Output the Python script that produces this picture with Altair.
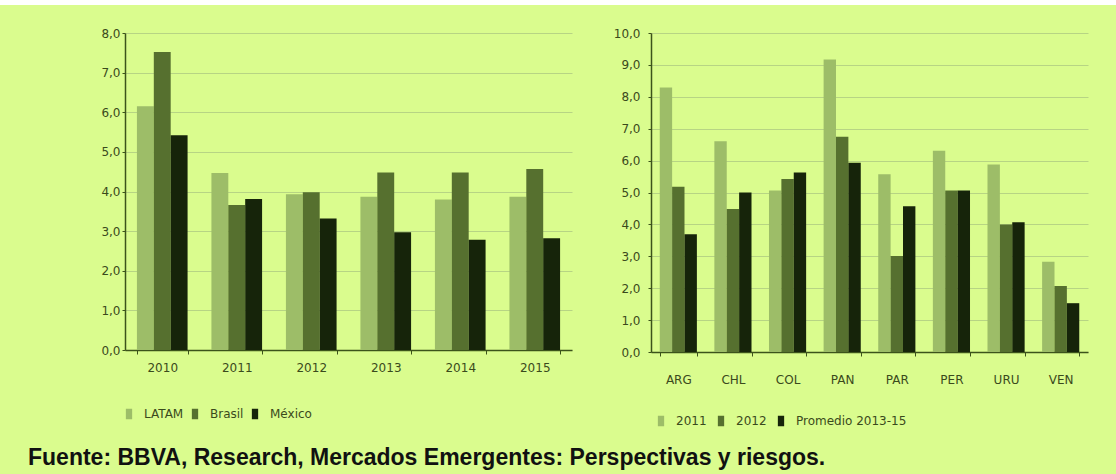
import altair as alt
import pandas as pd

# ---- data ----
years = ["2010", "2011", "2012", "2013", "2014", "2015"]
latam = [6.15, 4.47, 3.93, 3.87, 3.80, 3.87]
brasil = [7.52, 3.66, 3.98, 4.48, 4.48, 4.57]
mexico = [5.42, 3.81, 3.32, 2.97, 2.78, 2.82]
left_series = ["LATAM", "Brasil", "México"]

countries = ["ARG", "CHL", "COL", "PAN", "PAR", "PER", "URU", "VEN"]
v2011 = [8.29, 6.61, 5.06, 9.17, 5.57, 6.31, 5.88, 2.83]
v2012 = [5.18, 4.48, 5.42, 6.75, 3.01, 5.06, 4.00, 2.07]
prom = [3.69, 5.00, 5.63, 5.93, 4.57, 5.06, 4.07, 1.53]
right_series = ["2011", "2012", "Promedio 2013-15"]

footer = "Fuente: BBVA, Research, Mercados Emergentes: Perspectivas y riesgos."

# ---- styling ----
BG = "#dafc8e"
C1, C2, C3 = "#9dbd68", "#56702f", "#16240a"
AX = "#3c531b"
TXT = "#3a4a1c"
GRID = "#b7d484"
FONT = "DejaVu Sans"

left_df = pd.DataFrame({
    "cat": years * 3,
    "serie": [s for s in left_series for _ in years],
    "val": latam + brasil + mexico,
})
right_df = pd.DataFrame({
    "cat": countries * 3,
    "serie": [s for s in right_series for _ in countries],
    "val": v2011 + v2012 + prom,
})

comma = "replace(format(datum.value, '.1f'), '.', ',')"
bar_sym = "M-0.6,-1H0.6V1H-0.6Z"


def bars(df, cats, series, ymax, xlab_pad, ylab_pad, lx, ly, colpad, loff):
    return alt.Chart(df).mark_bar().encode(
        x=alt.X("cat:N", sort=cats, title=None,
                scale=alt.Scale(paddingInner=0.32, paddingOuter=0.16),
                axis=alt.Axis(labelAngle=0, tickBand="extent", tickSize=4,
                              tickColor=AX, domainColor=AX, domainWidth=1.5,
                              labelPadding=xlab_pad, labelFont=FONT,
                              labelFontSize=12, labelColor=TXT, grid=False)),
        xOffset=alt.XOffset("serie:N", sort=series,
                            scale=alt.Scale(paddingInner=0, paddingOuter=0)),
        y=alt.Y("val:Q", title=None,
                scale=alt.Scale(domain=[0, ymax], nice=False),
                axis=alt.Axis(values=list(range(0, ymax + 1)), labelExpr=comma,
                              tickSize=3, tickColor=AX, domainColor=AX,
                              domainWidth=1.5, gridColor=GRID, gridWidth=1.2,
                              labelFont=FONT, labelFontSize=12, labelColor=TXT,
                              labelPadding=ylab_pad)),
        color=alt.Color("serie:N", sort=series,
                        scale=alt.Scale(domain=series, range=[C1, C2, C3]),
                        legend=alt.Legend(title=None, orient="none",
                                          direction="horizontal",
                                          legendX=lx, legendY=ly,
                                          symbolType=bar_sym, symbolSize=110,
                                          symbolStrokeWidth=0,
                                          symbolOpacity=1,
                                          labelFont=FONT, labelFontSize=12,
                                          labelColor=TXT, columnPadding=colpad,
                                          labelOffset=loff)),
    )


one = pd.DataFrame({"t": [footer]})
# invisible frame that fixes the overall canvas extent (1116 x 474)
frame = alt.Chart(one).mark_rect(opacity=0).encode(
    x=alt.value(-125), x2=alt.value(991), y=alt.value(-33), y2=alt.value(441))
white_strip = alt.Chart(one).mark_rect(color="#ffffff").encode(
    x=alt.value(-125), x2=alt.value(991), y=alt.value(-33), y2=alt.value(-28))
foot = alt.Chart(one).mark_text(align="left", baseline="alphabetic",
                                font="Liberation Sans", fontWeight="bold",
                                fontSize=23, color="#111111").encode(
    x=alt.value(-97), y=alt.value(432), text="t:N")

left = alt.layer(
    frame, white_strip,
    bars(left_df, years, left_series, 8, 8, 2, -2, 375, 5, 9),
    foot,
).properties(width=447, height=317)

right = bars(right_df, countries, right_series, 10, 18, 8, 4, 382, 8, 9).properties(
    width=437, height=319)

chart = alt.hconcat(left, right, spacing=79, bounds="flush").resolve_scale(
    x="independent", y="independent", color="independent", xOffset="independent"
).configure(background=BG, padding=0).configure_view(stroke=None)

chart.save("out.html", embed_options={"renderer": "svg", "actions": False})
